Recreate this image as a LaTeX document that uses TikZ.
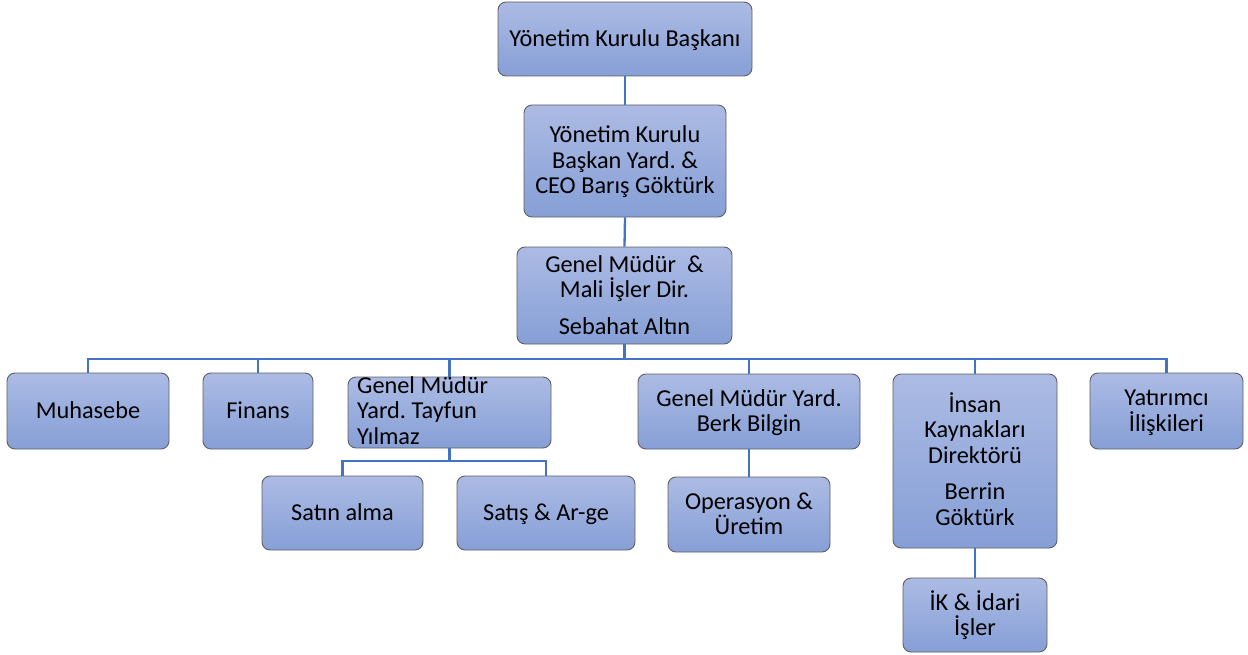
\documentclass[tikz,border=0pt]{standalone}
\usepackage{fontspec}
\setmainfont{Carlito}
\usetikzlibrary{calc}
\definecolor{boxtop}{RGB}{172,187,228}
\definecolor{boxbot}{RGB}{134,159,214}
\definecolor{boxedge}{RGB}{95,95,100}
\definecolor{conncol}{RGB}{68,114,196}
\newcommand{\bxstrut}{\rule[-4bp]{0pt}{23bp}}
\newcommand{\orgbox}[6]{%
  \node[obox, minimum width={(#4-#3)*1bp}, minimum height={(#6-#5)*1bp}]
    (#1) at ({(#3+#4)/2},{(#5+#6)/2}) {\bxstrut#2\bxstrut};}
\frenchspacing
\begin{document}
\begin{tikzpicture}[x=1bp,y=-1bp,
  obox/.style={draw=boxedge, line width=0.9bp, rounded corners=8bp,
    top color=boxtop, bottom color=boxbot, inner sep=0pt, align=center,
    font=\fontsize{24.3bp}{25.5bp}\selectfont\frenchspacing},
  conn/.style={draw=conncol, line width=2.3bp},
  plaintext/.style={inner sep=0pt, align=left,
    font=\fontsize{24.3bp}{25.5bp}\selectfont\frenchspacing}]
\useasboundingbox (0,0) rectangle (1248,655);
% top levels
\orgbox{chair}{Yönetim Kurulu Başkanı}{498}{752}{2}{76}
\orgbox{ceo}{Yönetim Kurulu\\Başkan Yard. \&\\CEO Barış Göktürk}{524}{726}{105}{217}
\orgbox{gm}{Genel Müdür~~\&\\Mali İşler Dir.\\[11bp]Sebahat Altın}{517}{732}{247}{344}
% level 4
\orgbox{muh}{Muhasebe}{7}{169}{373}{449}
\orgbox{fin}{Finans}{203}{313}{373}{449}
\orgbox{tay}{}{348}{551}{377}{448}
\node[plaintext, anchor=north west] (taytext) at (357,376) {Genel Müdür\\Yard. Tayfun\\Yılmaz};
\orgbox{berk}{Genel Müdür Yard.\\Berk Bilgin}{638}{860}{374}{449}
\orgbox{ik}{İnsan\\Kaynakları\\Direktörü\\[11bp]Berrin\\Göktürk}{893}{1057}{374}{548}
\orgbox{yat}{Yatırımcı\\İlişkileri}{1090}{1243}{373}{449}
% level 5
\orgbox{satin}{Satın alma}{262}{423}{476}{550}
\orgbox{satis}{Satış \& Ar-ge}{457}{635}{476}{550}
\orgbox{oper}{Operasyon \&\\Üretim}{668}{830}{477}{552}
\orgbox{ikid}{İK \& İdari\\İşler}{903}{1047}{578}{652}
% connectors
\coordinate (bus) at (625,359);
\coordinate (subbus) at (449,461);
\draw[conn] (chair.south) -- (ceo.north);
\draw[conn] (ceo.south) -- (gm.north);
\foreach \n in {muh,fin,tay,berk,ik,yat}
  \draw[conn] (gm.south) -- (gm.south |- bus) -| (\n.north);
\foreach \n in {satin,satis}
  \draw[conn] (tay.south) -- (tay.south |- subbus) -| (\n.north);
\draw[conn] (berk.south) -- (oper.north -| berk.south);
\draw[conn] (ik.south) -- (ikid.north -| ik.south);
\end{tikzpicture}
\end{document}
